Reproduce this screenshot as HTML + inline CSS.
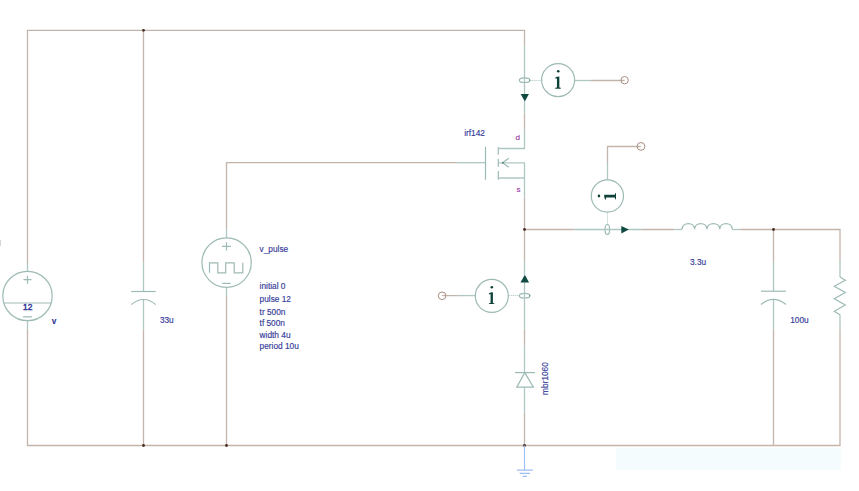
<!DOCTYPE html>
<html><head><meta charset="utf-8"><style>
html,body{margin:0;padding:0;background:#fff;}
body{width:859px;height:491px;overflow:hidden;position:relative;}
svg{position:absolute;left:0;top:0;}
.b{stroke:#c3b4ac;stroke-width:1.3;fill:none;}
.t{stroke:#aec7c3;stroke-width:1.3;fill:none;}
.s{stroke:#9dbab5;stroke-width:1.2;fill:none;}
.tx{font-family:"Liberation Sans",sans-serif;font-size:8.3px;fill:#343a98;stroke:#343a98;stroke-width:0.15px;}
.pu{font-family:"Liberation Sans",sans-serif;font-size:8.1px;fill:#963aa6;stroke:#963aa6;stroke-width:0.15px;}
.ii{font-family:"Liberation Serif",serif;font-size:26px;fill:#0e4238;}
.dot{fill:#4a2c24;}
.tm{stroke:#a88e84;stroke-width:1;fill:none;}
.arr{fill:#0e4a40;}
</style></head><body>
<svg width="859" height="491" viewBox="0 0 859 491">
<defs>
<g id="ig">
<circle cx="0.1" cy="-17.4" r="1.3" fill="#0e4238"/>
<path d="M-1.2 -11.9L1.2 -12.1V-1.2L2.6 -0.9V0H-2.9V-0.9L-1.2 -1.2V-10.1L-3.0 -10.2V-11.0Z" fill="#0e4238"/>
</g>
</defs>
<g>
<!-- faint watermark rect -->
<rect x="616" y="448" width="225" height="22" fill="#f5fcfe"/>
<rect x="0" y="240" width="1" height="6" fill="#d6d6d6"/>

<!-- brown wires -->
<path class="b" d="M27.5 263V30.3H524.5V45.7"/>
<path class="b" d="M27.5 329.5V445.5H840V329.3"/>
<path class="b" d="M143.5 30.3V262.7"/>
<path class="b" d="M143.5 329.3V445.5"/>
<path class="b" d="M226.5 228.5V162.7H457.3"/>
<path class="b" d="M226.5 296V445.5"/>
<path class="b" d="M524.5 113.5V129.2"/>
<path class="b" d="M524.5 197.5V261.7"/>
<path class="b" d="M524.5 329.7V345.4"/>
<path class="b" d="M524.5 412.4V445.5"/>
<path class="b" d="M524.5 229.5H574.4"/>
<path class="b" d="M641.1 229.5H674.4"/>
<path class="b" d="M740.2 229.5H840V262"/>
<path class="b" d="M773.5 229.5V262"/>
<path class="b" d="M773.5 329.3V445.5"/>
<path class="b" d="M591 80.5H624.6"/>
<path class="b" d="M441.9 295.6H458.8"/>
<path class="b" d="M640.8 146.5H607.5V162"/>
<circle class="tm" cx="624.6" cy="80.2" r="3.7"/>
<circle class="tm" cx="442.1" cy="295.8" r="3.8"/>
<circle class="tm" cx="641" cy="146.4" r="3.9"/>

<!-- junction dots -->
<circle class="dot" cx="143.5" cy="30.3" r="1.4"/>
<circle class="dot" cx="143.5" cy="445.5" r="1.4"/>
<circle class="dot" cx="226.5" cy="445.5" r="1.4"/>
<circle class="dot" cx="524.5" cy="445.5" r="1.4"/>
<circle class="dot" cx="524.5" cy="229.5" r="1.4"/>
<circle class="dot" cx="773.5" cy="229.5" r="1.4"/>

<!-- left DC source -->
<path class="t" d="M27.5 263V271.3M27.5 320.7V329.5"/>
<circle class="s" cx="27.5" cy="296" r="24.7"/>
<path class="s" d="M3.6 303H51.4" stroke-width="1.5"/>
<path class="s" d="M23.5 279.7H31.5M27.5 275.7V283.7"/>
<path class="s" d="M23 316.8H32" stroke-width="1.6"/>
<text class="tx" x="23.1" y="310.4" style="font-size:8.3px;stroke-width:0.45px">12</text>
<text class="tx" x="51.8" y="323.5" font-weight="bold" font-size="8px">v</text>

<!-- cap 33u -->
<path class="t" d="M143.5 262.7V291.5M143.5 299.5V329.3"/>
<path class="s" d="M131.3 291.5H155.8"/>
<path class="s" d="M131.2 304.6Q143.5 294.4 155.8 304.6"/>
<text class="tx" x="159.9" y="322.6">33u</text>

<!-- pulse source -->
<path class="t" d="M226.5 228.5V237.6M226.5 287.5V296"/>
<circle class="s" cx="226.6" cy="262.6" r="24.7"/>
<path class="s" d="M222 246.4H231M226.5 242.3V250.4"/>
<path class="s" d="M222.2 283.4H230.7"/>
<path class="s" d="M209.5 272.8V262.8H217.8V272.8H225.7V262.8H234.2V272.8H242.8V262.8"/>
<text class="tx" x="259.6" y="252.2">v_pulse</text>
<text class="tx" x="259.6" y="289.4">initial 0</text>
<text class="tx" x="259.6" y="302.4">pulse 12</text>
<text class="tx" x="259.6" y="314.6">tr 500n</text>
<text class="tx" x="259.6" y="326.1">tf 500n</text>
<text class="tx" x="259.6" y="338.3">width 4u</text>
<text class="tx" x="259.6" y="348.6">period 10u</text>

<!-- MOSFET -->
<path class="t" d="M457.3 162.7H485.5"/>
<path class="s" d="M485.5 146.9V179.8"/>
<path class="s" d="M498.3 146.9V154.7M498.3 158.8V166.7M498.3 171.1V179.8"/>
<path class="t" d="M498.3 148.5H524.5V129.2M498.3 162.8H524.5V197.5M498.3 178H524.5"/>
<path class="s" d="M508.8 158.3L502.5 162.8L508.8 167.3"/><circle cx="502.9" cy="162.8" r="0.9" fill="#4f7f75"/>
<text class="tx" x="464.2" y="135.8">irf142</text>
<text class="pu" x="515.6" y="139.8">d</text>
<text class="pu" x="516.6" y="192.3">s</text>

<!-- top ammeter -->
<path class="t" d="M524.5 45.7V94M524.5 101V113.5"/>
<ellipse class="s" cx="524.6" cy="80.2" rx="5.3" ry="2.3"/><path d="M529.2 78.9L530.6 80.2L529.2 81.5Z" fill="#6f9a91"/>
<path d="M530.5 80.5H541" stroke="#a9c4bf" stroke-width="1" stroke-dasharray="1 1"/>
<circle class="s" cx="558.1" cy="80.1" r="16.5"/>
<path class="t" d="M575 80.5H591"/>
<path class="arr" d="M520.7 93.9H528.9L524.8 101.4Z"/>
<use href="#ig" transform="translate(558.15 88.7)"/>

<!-- lower-left ammeter -->
<path class="t" d="M458.8 295.6H475"/>
<circle class="s" cx="491.8" cy="295.9" r="16.5"/>
<path d="M508.7 295.5H519.3" stroke="#a9c4bf" stroke-width="1" stroke-dasharray="1 1"/>
<ellipse class="s" cx="524.6" cy="295.7" rx="5.3" ry="2.3"/><path d="M529.2 294.4L530.6 295.7L529.2 297Z" fill="#6f9a91"/>
<path class="t" d="M524.5 261.7V274.8M524.5 282.3V329.7"/>
<path class="arr" d="M524.8 274.7L529.1 282.4H520.5Z"/>
<use href="#ig" transform="translate(491.75 304.1) scale(0.97)"/>

<!-- rotated ammeter -->
<path class="t" d="M607.5 162V179.5"/>
<circle class="s" cx="607.4" cy="196" r="16.1"/>
<path d="M607.5 212.4V224.5" stroke="#a9c4bf" stroke-width="1" stroke-dasharray="1 1"/>
<ellipse class="s" cx="607.3" cy="229.5" rx="2.3" ry="5"/>
<path class="t" d="M574.4 229.5H641.1"/>
<path class="arr" d="M621.3 225.9L628.8 229.6L621.3 233.4Z"/>
<use href="#ig" transform="translate(616 196.1) rotate(-90) scale(1.12 0.98)"/>

<!-- inductor -->
<path class="t" d="M674.4 229.5H682.1"/>
<path class="s" d="M682.1 229.3C682.1 221.6 694.6 221.6 694.6 229.3C694.6 221.6 707 221.6 707 229.3C707 221.6 719.8 221.6 719.8 229.3C719.8 221.6 732.2 221.6 732.2 229.3"/>
<path class="t" d="M732.2 229.5H740.2"/>
<text class="tx" x="690" y="264.6">3.3u</text>

<!-- right cap -->
<path class="t" d="M773.5 262V291.2M773.5 299.4V329.3"/>
<path class="s" d="M761 291.2H786"/>
<path class="s" d="M761 304.5Q773.5 294.3 786 304.5"/>
<text class="tx" x="790.2" y="323">100u</text>

<!-- resistor -->
<path class="t" d="M840 262V277.1M840 314.8V329.3"/>
<path class="s" d="M840 277.1L845.3 280.2L834.3 286.3L845.3 292.5L834.3 298.7L845.3 305L834.3 311.3L840 314.8"/>

<!-- diode -->
<path class="t" d="M524.5 345.4V372.6M524.5 387.2V412.4"/>
<path class="s" d="M515 372.6H535"/>
<path class="s" d="M524.7 372.6L533.4 387.2H516.8Z"/>
<text class="tx" transform="translate(548.2 394.9) rotate(-90)" x="0" y="0">mbr1060</text>

<!-- ground -->
<path d="M524.5 445.5V470.1M516.8 470.1H532.8M519.6 473.4H529.9M522.7 476.3H526.8" stroke="#9dbdf5" stroke-width="1.15" fill="none"/>
</g>
</svg>
</body></html>
